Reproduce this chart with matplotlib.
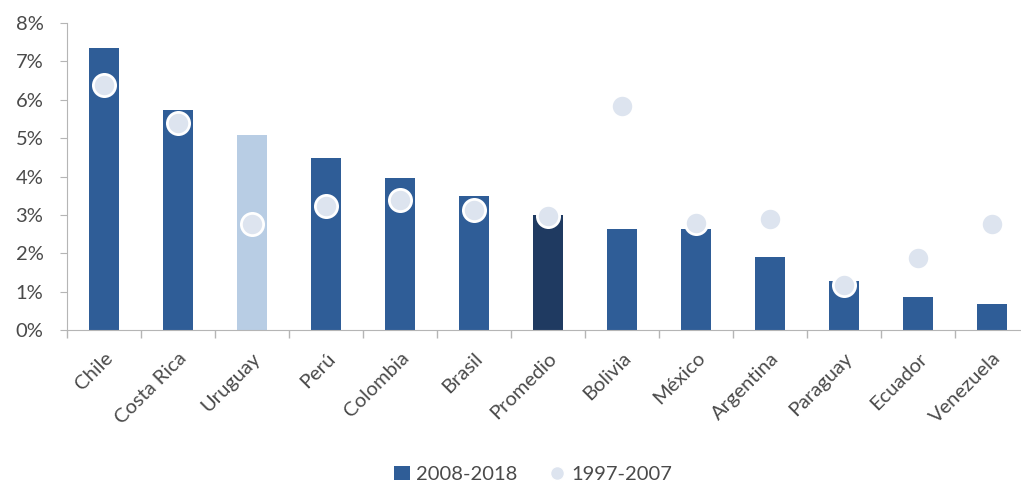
import matplotlib
matplotlib.use("Agg")
import matplotlib.pyplot as plt
from matplotlib.ticker import FuncFormatter, FixedLocator
from matplotlib.lines import Line2D
from matplotlib.patches import Patch

paises = ["Chile", "Costa Rica", "Uruguay", "Perú", "Colombia", "Brasil", "Promedio",
          "Bolivia", "México", "Argentina", "Paraguay", "Ecuador", "Venezuela"]
periodo_2008_2018 = [7.35, 5.72, 5.07, 4.49, 3.97, 3.50, 2.99, 2.62, 2.62, 1.90, 1.27, 0.86, 0.68]
periodo_1997_2007 = [6.39, 5.40, 2.75, 3.22, 3.38, 3.12, 2.96, 5.84, 2.80, 2.88, 1.17, 1.87, 2.75]

color_barra = "#2f5d97"
color_uruguay = "#b8cde4"
color_promedio = "#1f3a61"
color_punto = "#dde4ef"
gris_texto = "#4a4a4a"
gris_eje = "#b5b5b5"

plt.rcParams["font.family"] = ["Lato", "DejaVu Sans"]
plt.rcParams["font.size"] = 14

fig = plt.figure(figsize=(10.21, 4.83), dpi=100)
ax = fig.add_axes([67 / 1021, 153 / 483, (1029 - 67) / 1021, (460 - 153) / 483])

x = list(range(len(paises)))
colores = []
for p in paises:
    if p == "Uruguay":
        colores.append(color_uruguay)
    elif p == "Promedio":
        colores.append(color_promedio)
    else:
        colores.append(color_barra)

ax.bar(x, periodo_2008_2018, width=0.41, color=colores, zorder=2)
ax.plot(x, periodo_1997_2007, linestyle="none", marker="o", markersize=16,
        markerfacecolor=color_punto, markeredgecolor="white", markeredgewidth=2, zorder=3)

ax.set_xlim(-0.5, len(paises) - 0.5)
ax.set_ylim(0, 8)
ax.set_yticks(range(0, 9))
ax.yaxis.set_major_formatter(FuncFormatter(lambda v, pos: f"{int(v)}%"))

ax.set_xticks(x)
ax.set_xticklabels(paises, rotation=45, ha="right", rotation_mode="anchor")
ax.xaxis.set_minor_locator(FixedLocator([i + 0.5 for i in range(-1, len(paises))]))
ax.tick_params(axis="x", which="major", length=0, pad=14, labelcolor=gris_texto, labelsize=14.5)
ax.tick_params(axis="x", which="minor", length=6, color=gris_eje, width=1)
ax.tick_params(axis="y", length=5, color=gris_eje, pad=12, labelcolor=gris_texto, labelsize=14.5)

for s in ["top", "right"]:
    ax.spines[s].set_visible(False)
ax.spines["left"].set_color(gris_eje)
ax.spines["bottom"].set_color(gris_eje)

handles = [
    Patch(facecolor=color_barra, edgecolor="none"),
    Line2D([], [], linestyle="none", marker="o", markersize=10,
           markerfacecolor=color_punto, markeredgecolor="white"),
]
fig.legend(handles, ["2008-2018", "1997-2007"], loc="center",
           bbox_to_anchor=(0.522, 0.018), ncol=2, frameon=False,
           handlelength=0.8, handletextpad=0.3, columnspacing=1.6,
           fontsize=14.5, labelcolor=gris_texto)

fig.savefig("out.png", dpi=100)
